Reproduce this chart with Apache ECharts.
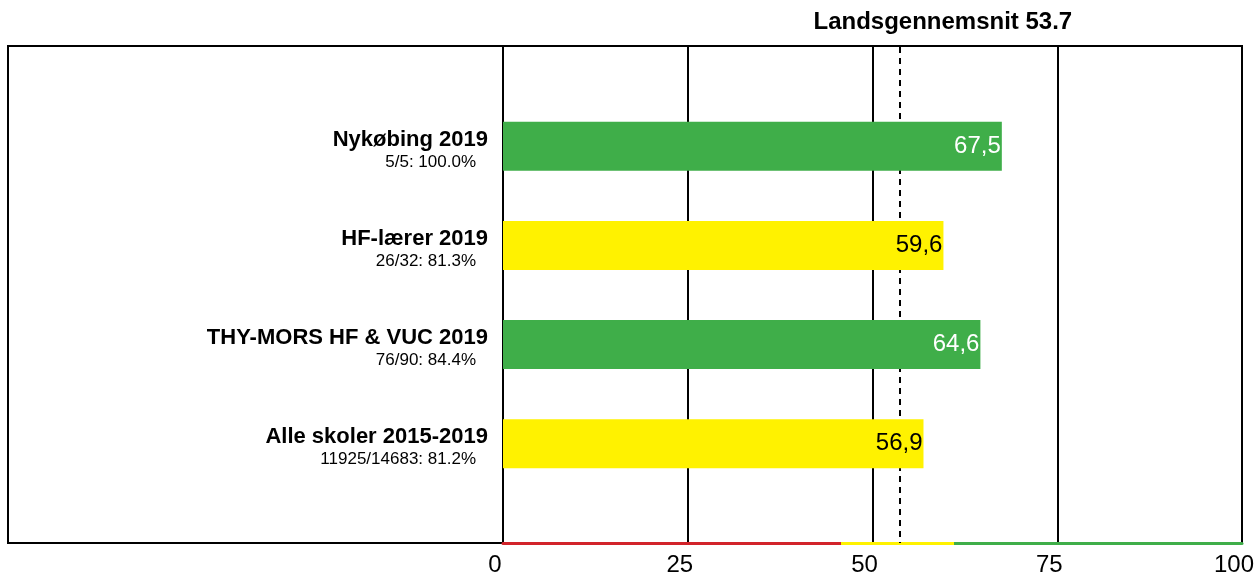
<!DOCTYPE html>
<html>
<head>
<meta charset="utf-8">
<script src="https://cdn.jsdelivr.net/npm/echarts@6/dist/echarts.min.js"></script>
<style>
    html, body { margin: 0; padding: 0; background: #fff; }
    #chart { width: 1255px; height: 573px; }
</style>
</head>
<body>
<div id="chart"></div>
<script>
// data
var schools = ['Nykøbing 2019', 'HF-lærer 2019', 'THY-MORS HF & VUC 2019', 'Alle skoler 2015-2019'];
var responses = ['5/5: 100.0%', '26/32: 81.3%', '76/90: 84.4%', '11925/14683: 81.2%'];
var scores = [67.5, 59.6, 64.6, 56.9];
var nationalAvg = 53.7;
var thresholds = [45.7, 61.0];
var xTicks = [0, 25, 50, 75, 100];

var RED = '#D2232A', YELLOW = '#FFF200', GREEN = '#3FAE49';
var FONT = '"Liberation Sans", Arial, sans-serif';

function colorFor(v) {
    if (v < thresholds[0]) return RED;
    if (v < thresholds[1]) return YELLOW;
    return GREEN;
}

// pad with empty slots top and bottom so the bars sit on the inner positions
var cats = [''].concat(schools).concat(['']);
var barData = ['-'].concat(scores.map(function (v) {
    var c = colorFor(v);
    return {
        value: v,
        itemStyle: { color: c },
        label: { color: c === GREEN ? '#fff' : '#000' }
    };
})).concat(['-']);

var chart = echarts.init(document.getElementById('chart'));

chart.setOption({
    animation: false,
    textStyle: { fontFamily: FONT },
    grid: { left: 503, right: 13, top: 47, bottom: 30, outerBoundsMode: 'none', containLabel: false },
    graphic: [{
        type: 'rect',
        shape: { x: 8, y: 46, width: 1234, height: 497 },
        style: { fill: 'none', stroke: '#000', lineWidth: 2 },
        z: -10,
        silent: true
    }],
    xAxis: {
        type: 'value',
        min: xTicks[0],
        max: xTicks[xTicks.length - 1],
        interval: xTicks[1] - xTicks[0],
        z: 0,
        axisLine: {
            show: true,
            onZero: false,
            lineStyle: {
                width: 3,
                color: new echarts.graphic.LinearGradient(0, 0, 1, 0, [
                    { offset: 0, color: RED },
                    { offset: thresholds[0] / 100, color: RED },
                    { offset: thresholds[0] / 100, color: YELLOW },
                    { offset: thresholds[1] / 100, color: YELLOW },
                    { offset: thresholds[1] / 100, color: GREEN },
                    { offset: 1, color: GREEN }
                ])
            }
        },
        axisTick: { show: false },
        axisLabel: {
            color: '#000',
            fontSize: 24,
            fontFamily: FONT,
            margin: 10,
            padding: [0, 16, 0, 0]
        },
        splitLine: { show: true, lineStyle: { color: '#000', width: 2 } }
    },
    yAxis: {
        type: 'category',
        data: cats,
        inverse: true,
        boundaryGap: false,
        z: 0,
        axisLine: { show: true, lineStyle: { color: '#000', width: 2 } },
        axisTick: { show: false },
        splitLine: { show: false },
        axisLabel: {
            margin: 15,
            formatter: function (value, idx) {
                if (!value) return '';
                return '{n|' + value + '}\n{s|' + responses[idx - 1] + '}';
            },
            rich: {
                n: { fontSize: 22, fontWeight: 'bold', color: '#000', lineHeight: 28, align: 'right', padding: [11, 0, 0, 0], fontFamily: FONT },
                s: { fontSize: 17, color: '#000', lineHeight: 24, align: 'right', padding: [4, 12, 0, 0], fontFamily: FONT }
            }
        }
    },
    series: [{
        type: 'bar',
        z: 10,
        data: barData,
        barWidth: 49,
        label: {
            show: true,
            position: 'insideRight',
            distance: 1,
            fontSize: 24,
            fontFamily: FONT,
            formatter: function (p) { return String(p.value).replace('.', ','); }
        },
        markLine: {
            silent: true,
            z: 1,
            symbol: 'none',
            lineStyle: { color: '#000', type: [6, 5], width: 2 },
            label: {
                show: true,
                position: 'start',
                formatter: 'Landsgennemsnit {c}',
                color: '#000',
                fontSize: 24,
                fontWeight: 'bold',
                fontFamily: FONT,
                offset: [43, -8]
            },
            data: [{ xAxis: nationalAvg }]
        }
    }]
});
</script>
</body>
</html>
